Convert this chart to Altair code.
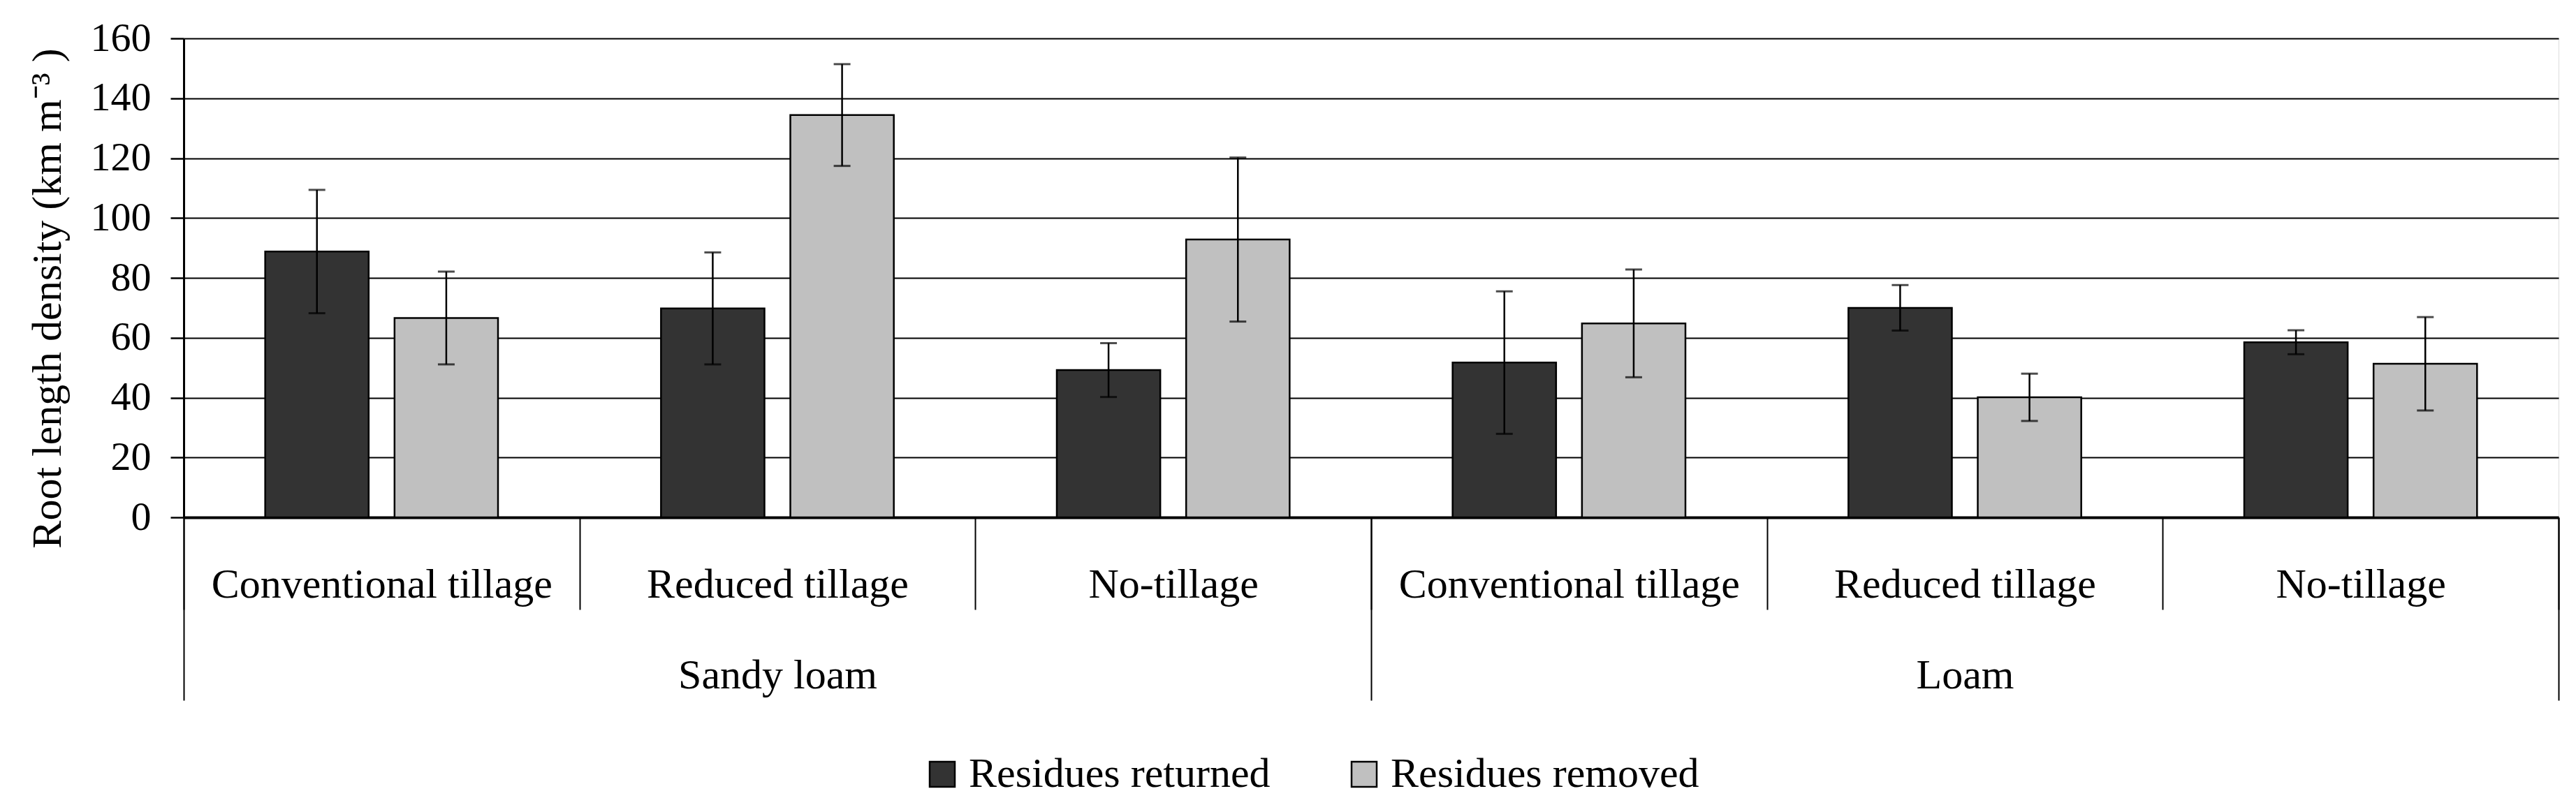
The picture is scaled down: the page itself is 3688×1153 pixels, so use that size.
import altair as alt
import pandas as pd

soils = ["Sandy loam", "Sandy loam", "Sandy loam", "Loam", "Loam", "Loam"]
tillages = ["Conventional tillage", "Reduced tillage", "No-tillage",
            "Conventional tillage", "Reduced tillage", "No-tillage"]
series = ["Residues returned", "Residues removed"]
returned = [88.8, 69.8, 49.2, 51.7, 70.0, 58.5]
returned_err = [20.6, 18.7, 9.0, 23.8, 7.6, 4.0]
removed = [66.6, 134.4, 92.8, 64.8, 40.1, 51.3]
removed_err = [15.5, 17.0, 27.4, 18.0, 7.9, 15.6]
soil_order = ["Sandy loam", "Loam"]
y_ticks = [0, 20, 40, 60, 80, 100, 120, 140, 160]

rows = []
for i in range(len(soils)):
    key = soils[i] + "|" + tillages[i]
    for s, vals, errs in ((series[0], returned, returned_err),
                          (series[1], removed, removed_err)):
        rows.append(dict(key=key, soil=soils[i], tillage=tillages[i], series=s,
                         value=vals[i], lo=vals[i] - errs[i], hi=vals[i] + errs[i]))
df = pd.DataFrame(rows)
keys = list(dict.fromkeys(df["key"]))
soil_df = pd.DataFrame({"soil": soil_order})

FONT = "Liberation Serif"
YTITLE = "Root length density (km m\u207b\u00b3 )"

x_axis = alt.Axis(orient="bottom", labelExpr="split(datum.label, '|')[1]", labelAngle=0,
                  labelFont=FONT, labelFontSize=60, labelColor="black", labelPadding=-18,
                  labelBaseline="alphabetic", labelLimit=2000, labelOverlap=False,
                  tickBand="extent", tickSize=132, tickColor="black", tickWidth=2,
                  domainColor="black", domainWidth=4, grid=False, title=None)
x_enc = alt.X("key:N", sort=keys,
              scale=alt.Scale(type="band", domain=keys, paddingInner=0, paddingOuter=0),
              axis=x_axis)
xoff = alt.XOffset("series:N",
                   scale=alt.Scale(domain=series, paddingInner=0.2, paddingOuter=0.63))
y_axis = alt.Axis(values=y_ticks, grid=True, gridColor="black", gridWidth=2,
                  domainColor="black", domainWidth=3, tickColor="black", tickWidth=2.5,
                  tickSize=19, labelFont=FONT, labelFontSize=58, labelColor="black",
                  labelPadding=28, titleFont=FONT, titleFontSize=60,
                  titleFontWeight="normal", titleColor="black", titleAngle=270,
                  titleX=-177, titleY=372, titleBaseline="alphabetic", titleAlign="center")
y_scale = alt.Scale(domain=[0, 160], nice=False)

base = alt.Chart(df)
bars = base.mark_bar(stroke="black", strokeWidth=2.5).encode(
    x=x_enc, xOffset=xoff,
    y=alt.Y("value:Q", scale=y_scale, axis=y_axis, title=YTITLE),
    color=alt.Color("series:N",
                    scale=alt.Scale(domain=series, range=["#333333", "#c0c0c0"]),
                    legend=alt.Legend(orient="none", legendX=1056, legendY=1024,
                                      direction="horizontal", title=None,
                                      symbolType="square", symbolSize=1296,
                                      symbolStrokeColor="black", symbolStrokeWidth=2.5,
                                      labelFont=FONT, labelFontSize=60, labelColor="black",
                                      labelOffset=8, columnPadding=104, labelLimit=2000)),
)
rules = base.mark_rule(color="black", strokeWidth=2.5).encode(
    x=x_enc, xOffset=xoff,
    y=alt.Y("lo:Q", scale=y_scale, axis=y_axis, title=YTITLE), y2="hi:Q")
cap_lo = base.mark_tick(color="black", thickness=3, size=24, orient="horizontal").encode(
    x=x_enc, xOffset=xoff, y=alt.Y("lo:Q", scale=y_scale, axis=y_axis, title=YTITLE))
cap_hi = base.mark_tick(color="black", thickness=3, size=24, orient="horizontal").encode(
    x=x_enc, xOffset=xoff, y=alt.Y("hi:Q", scale=y_scale, axis=y_axis, title=YTITLE))

inner = alt.layer(bars, rules, cap_lo, cap_hi)

soil_layer = alt.Chart(soil_df).mark_point(opacity=0).encode(
    x=alt.X("soil:N", sort=soil_order,
            scale=alt.Scale(type="band", domain=soil_order, paddingInner=0, paddingOuter=0),
            axis=alt.Axis(orient="bottom", labelAngle=0, labelFont=FONT, labelFontSize=60,
                          labelColor="black", labelPadding=-18, labelBaseline="alphabetic",
                          labelLimit=2000, tickBand="extent", tickSize=262, tickColor="black",
                          tickWidth=2, domain=False, grid=False, title=None))
)

chart = alt.layer(inner, soil_layer).resolve_scale(x="independent").properties(
    width=3400, height=686,
    autosize=alt.AutoSizeParams(type="none"),
    padding={"left": 255, "top": 47, "right": 17, "bottom": 400},
).configure_view(stroke="black", strokeWidth=3).configure(font=FONT, background="white")

chart.save("out.html", embed_options={"renderer": "svg", "actions": False})
